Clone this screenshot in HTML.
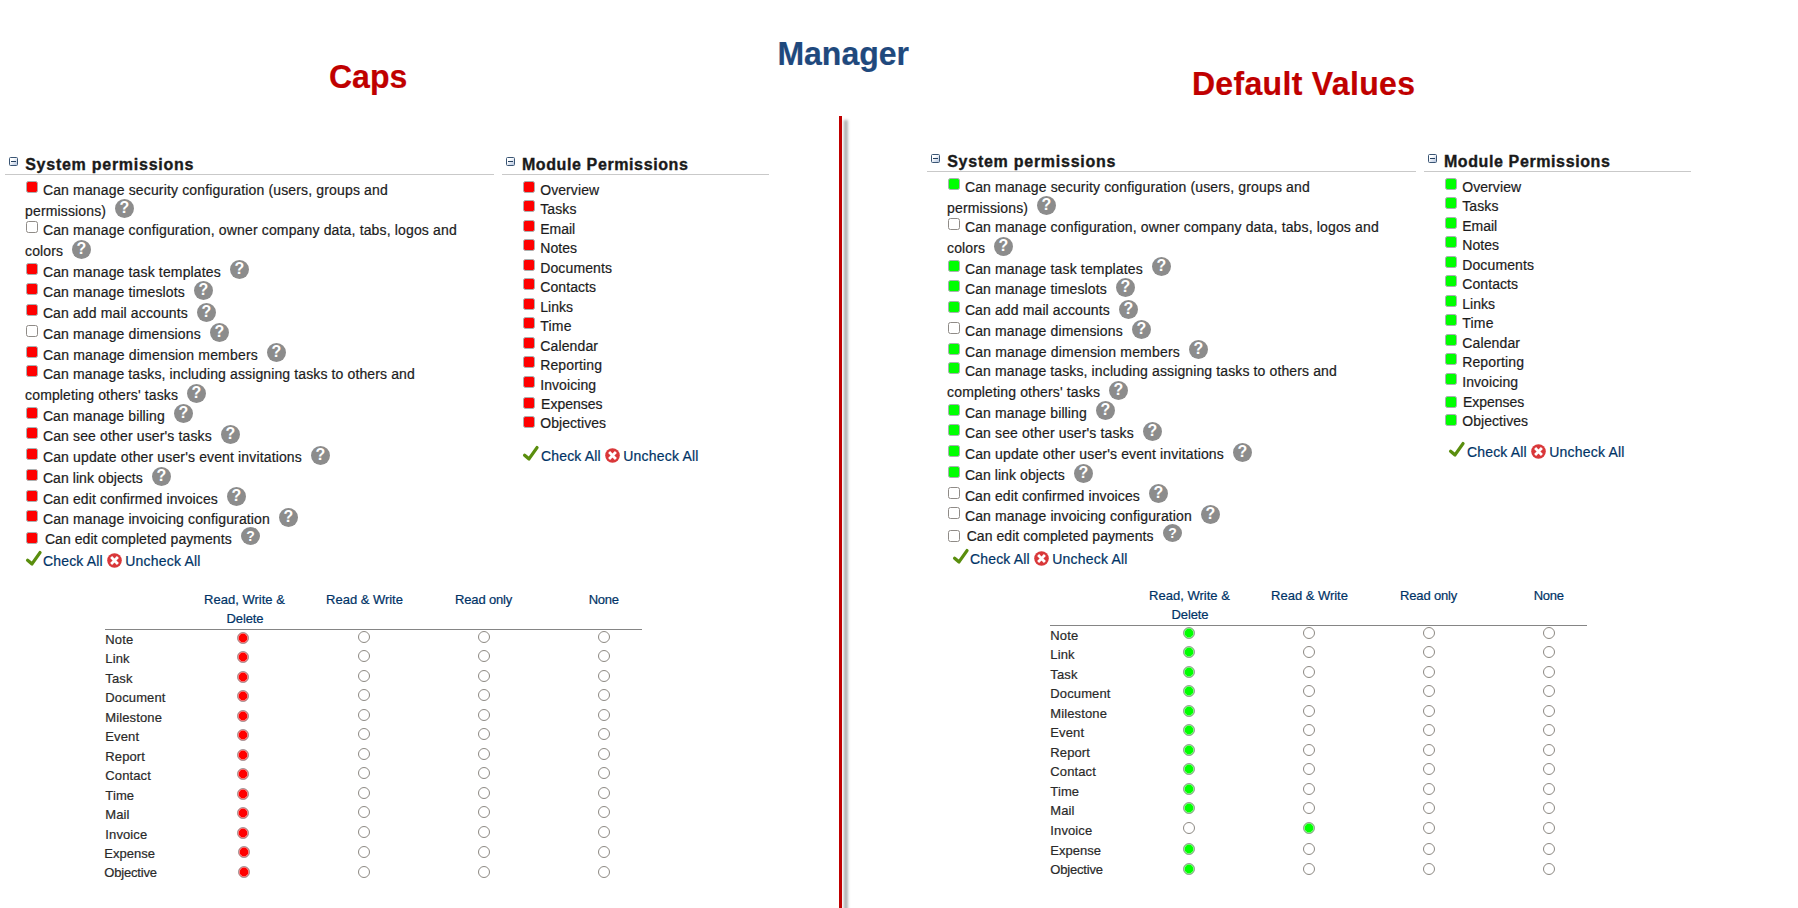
<!DOCTYPE html>
<html lang="en"><head><meta charset="utf-8"><title>Manager permissions</title>
<style>
html,body{margin:0;padding:0;background:#fff}
body{width:1798px;height:908px;position:relative;overflow:hidden;font-family:"Liberation Sans",Arial,sans-serif}
.t{position:absolute;margin:0;padding:0;text-decoration:none;white-space:nowrap;line-height:1;font-weight:400;-webkit-text-stroke:0.2px currentColor}
.t.b{font-weight:700}
.t.h{-webkit-text-stroke:0.35px #1a1a1a}
.tc{text-align:center}
.cb{position:absolute;box-sizing:border-box;width:12px;height:12px;border:1px solid #8f8b87;border-radius:2.5px;background:#fff}
.hp{position:absolute;border-radius:50%;background:#8c8c8c;color:#fff;font-size:16px;line-height:16px;padding-top:1px;box-sizing:border-box;font-weight:700;text-align:center;font-family:"Liberation Sans",Arial,sans-serif}
.co{position:absolute;box-sizing:border-box;width:9px;height:9px;border:1px solid #3a5574;border-radius:1.5px;background:linear-gradient(135deg,#fff 30%,#b4c4de 100%)}
.co s{position:absolute;left:1px;top:3px;width:5px;height:1px;background:#24405f}
.ln{position:absolute;height:1px}
.ic{position:absolute;overflow:visible}
.rd{position:absolute;box-sizing:border-box;width:12px;height:12px;border:1px solid #8d8983;border-radius:50%;background:#fff}
.rd.on{border:1px solid #a39ea0;box-shadow:inset 0 0 0 0.6px rgba(255,255,255,0.75)}
.vl{position:absolute;left:839px;top:116px;width:3px;height:800px;background:#c00000;box-shadow:5.3px 4.5px 3px 0.4px rgba(0,0,0,0.34)}
</style></head>
<body>
<h2 class="t b" style="left:329.0px;top:61px;font-size:32px;color:#c00000;transform:scaleY(1.035);transform-origin:0 27px">Caps</h2>
<h1 class="t b" style="left:777.4px;top:38px;font-size:32px;color:#1f497d;transform:scaleY(1.035);transform-origin:0 27px">Manager</h1>
<h2 class="t b" style="left:1191.9px;top:68px;font-size:32px;color:#c00000;letter-spacing:0.33px;transform:scaleY(1.035);transform-origin:0 27px">Default Values</h2>
<i class="vl"></i>
<section aria-label="Caps">
<i class="co" style="left:9px;top:157px"><s></s></i>
<h3 class="t b h" style="left:25.2px;top:157px;font-size:16px;color:#1a1a1a;letter-spacing:0.74px">System permissions</h3>
<i class="ln" style="left:5.0px;width:488.6px;top:174px;background:#c9c9c9"></i>
<i class="co" style="left:506px;top:157px"><s></s></i>
<h3 class="t b h" style="left:521.9px;top:157px;font-size:16px;color:#1a1a1a;letter-spacing:0.61px">Module Permissions</h3>
<i class="ln" style="left:502.4px;width:266.2px;top:174px;background:#c9c9c9"></i>
<i class="cb" style="left:26px;top:181px;background:#f00;border-color:#a9b0b0"></i>
<label class="t " style="left:42.9px;top:183px;font-size:14px;color:#1c1c1c;letter-spacing:0.155px">Can manage security configuration (users, groups and</label>
<label class="t " style="left:25.1px;top:204px;font-size:14px;color:#1c1c1c;letter-spacing:0.137px">permissions)</label>
<b class="hp" style="left:115px;top:199px;width:19px;height:19px">?</b>
<i class="cb" style="left:26px;top:221px"></i>
<label class="t " style="left:42.9px;top:223px;font-size:14px;color:#1c1c1c;letter-spacing:0.152px">Can manage configuration, owner company data, tabs, logos and</label>
<label class="t " style="left:25.1px;top:244px;font-size:14px;color:#1c1c1c;letter-spacing:0.109px">colors</label>
<b class="hp" style="left:72px;top:240px;width:19px;height:19px">?</b>
<i class="cb" style="left:26px;top:263px;background:#f00;border-color:#a9b0b0"></i>
<label class="t " style="left:42.9px;top:265px;font-size:14px;color:#1c1c1c;letter-spacing:0.147px">Can manage task templates</label>
<b class="hp" style="left:230px;top:260px;width:19px;height:19px">?</b>
<i class="cb" style="left:26px;top:283px;background:#f00;border-color:#a9b0b0"></i>
<label class="t " style="left:42.9px;top:285px;font-size:14px;color:#1c1c1c;letter-spacing:0.136px">Can manage timeslots</label>
<b class="hp" style="left:194px;top:281px;width:19px;height:19px">?</b>
<i class="cb" style="left:26px;top:304px;background:#f00;border-color:#a9b0b0"></i>
<label class="t " style="left:42.9px;top:306px;font-size:14px;color:#1c1c1c;letter-spacing:0.123px">Can add mail accounts</label>
<b class="hp" style="left:197px;top:303px;width:19px;height:19px">?</b>
<i class="cb" style="left:26px;top:325px"></i>
<label class="t " style="left:42.9px;top:327px;font-size:14px;color:#1c1c1c;letter-spacing:0.149px">Can manage dimensions</label>
<b class="hp" style="left:210px;top:323px;width:19px;height:19px">?</b>
<i class="cb" style="left:26px;top:346px;background:#f00;border-color:#a9b0b0"></i>
<label class="t " style="left:42.9px;top:348px;font-size:14px;color:#1c1c1c;letter-spacing:0.175px">Can manage dimension members</label>
<b class="hp" style="left:267px;top:343px;width:19px;height:19px">?</b>
<i class="cb" style="left:26px;top:365px;background:#f00;border-color:#a9b0b0"></i>
<label class="t " style="left:42.9px;top:367px;font-size:14px;color:#1c1c1c;letter-spacing:0.123px">Can manage tasks, including assigning tasks to others and</label>
<label class="t " style="left:25.1px;top:388px;font-size:14px;color:#1c1c1c;letter-spacing:0.136px">completing others' tasks</label>
<b class="hp" style="left:187px;top:384px;width:19px;height:19px">?</b>
<i class="cb" style="left:26px;top:407px;background:#f00;border-color:#a9b0b0"></i>
<label class="t " style="left:42.9px;top:409px;font-size:14px;color:#1c1c1c;letter-spacing:0.119px">Can manage billing</label>
<b class="hp" style="left:174px;top:404px;width:19px;height:19px">?</b>
<i class="cb" style="left:26px;top:427px;background:#f00;border-color:#a9b0b0"></i>
<label class="t " style="left:42.9px;top:429px;font-size:14px;color:#1c1c1c;letter-spacing:0.142px">Can see other user's tasks</label>
<b class="hp" style="left:221px;top:425px;width:19px;height:19px">?</b>
<i class="cb" style="left:26px;top:448px;background:#f00;border-color:#a9b0b0"></i>
<label class="t " style="left:42.9px;top:450px;font-size:14px;color:#1c1c1c;letter-spacing:0.140px">Can update other user's event invitations</label>
<b class="hp" style="left:311px;top:446px;width:19px;height:19px">?</b>
<i class="cb" style="left:26px;top:469px;background:#f00;border-color:#a9b0b0"></i>
<label class="t " style="left:42.9px;top:471px;font-size:14px;color:#1c1c1c;letter-spacing:0.073px">Can link objects</label>
<b class="hp" style="left:152px;top:467px;width:19px;height:19px">?</b>
<i class="cb" style="left:26px;top:490px;background:#f00;border-color:#a9b0b0"></i>
<label class="t " style="left:42.9px;top:492px;font-size:14px;color:#1c1c1c;letter-spacing:0.112px">Can edit confirmed invoices</label>
<b class="hp" style="left:227px;top:487px;width:19px;height:19px">?</b>
<i class="cb" style="left:26px;top:510px;background:#f00;border-color:#a9b0b0"></i>
<label class="t " style="left:42.9px;top:512px;font-size:14px;color:#1c1c1c;letter-spacing:0.130px">Can manage invoicing configuration</label>
<b class="hp" style="left:279px;top:508px;width:19px;height:19px">?</b>
<i class="cb" style="left:26px;top:532px;background:#f00;border-color:#a9b0b0"></i>
<label class="t " style="left:44.9px;top:532px;font-size:14px;color:#1c1c1c;letter-spacing:0.06px">Can edit completed payments</label>
<b class="hp" style="left:241px;top:527px;width:19px;height:18px;font-size:14px;line-height:14px;padding-top:2px">?</b>
<svg class="ic" style="left:25.5px;top:551.1px" width="16" height="16" viewBox="0 0 16 16"><path d="M1.6 9.3 L6.0 12.9 L14.0 1.6" fill="none" stroke="#5a8e0e" stroke-width="3.3" stroke-linejoin="round" stroke-linecap="round"/></svg>
<a href="#" class="t " style="left:43.0px;top:554px;font-size:14px;color:#003366;letter-spacing:0.17px">Check All</a>
<svg class="ic" style="left:107.0px;top:553.0px" width="15" height="15" viewBox="0 0 15 15"><circle cx="7.5" cy="7.5" r="7.3" fill="#d9383a"/><path d="M4.1 4.1 L10.9 10.9 M10.9 4.1 L4.1 10.9" stroke="#fff" stroke-width="2.8" stroke-linecap="butt"/></svg>
<a href="#" class="t " style="left:125.3px;top:554px;font-size:14px;color:#003366;letter-spacing:0.2px">Uncheck All</a>
<i class="cb" style="left:523px;top:181px;background:#f00;border-color:#a9b0b0"></i>
<label class="t " style="left:540.2px;top:183px;font-size:14px;color:#1c1c1c;letter-spacing:0.082px">Overview</label>
<i class="cb" style="left:523px;top:200px;background:#f00;border-color:#a9b0b0"></i>
<label class="t " style="left:540.2px;top:202px;font-size:14px;color:#1c1c1c;letter-spacing:0.132px">Tasks</label>
<i class="cb" style="left:523px;top:220px;background:#f00;border-color:#a9b0b0"></i>
<label class="t " style="left:540.2px;top:222px;font-size:14px;color:#1c1c1c;letter-spacing:-0.001px">Email</label>
<i class="cb" style="left:523px;top:239px;background:#f00;border-color:#a9b0b0"></i>
<label class="t " style="left:540.2px;top:241px;font-size:14px;color:#1c1c1c;letter-spacing:0.086px">Notes</label>
<i class="cb" style="left:523px;top:259px;background:#f00;border-color:#a9b0b0"></i>
<label class="t " style="left:540.2px;top:261px;font-size:14px;color:#1c1c1c;letter-spacing:0.133px">Documents</label>
<i class="cb" style="left:523px;top:278px;background:#f00;border-color:#a9b0b0"></i>
<label class="t " style="left:540.2px;top:280px;font-size:14px;color:#1c1c1c;letter-spacing:0.094px">Contacts</label>
<i class="cb" style="left:523px;top:298px;background:#f00;border-color:#a9b0b0"></i>
<label class="t " style="left:540.2px;top:300px;font-size:14px;color:#1c1c1c;letter-spacing:0.063px">Links</label>
<i class="cb" style="left:523px;top:317px;background:#f00;border-color:#a9b0b0"></i>
<label class="t " style="left:540.2px;top:319px;font-size:14px;color:#1c1c1c;letter-spacing:0.222px">Time</label>
<i class="cb" style="left:523px;top:337px;background:#f00;border-color:#a9b0b0"></i>
<label class="t " style="left:540.2px;top:339px;font-size:14px;color:#1c1c1c;letter-spacing:0.148px">Calendar</label>
<i class="cb" style="left:523px;top:356px;background:#f00;border-color:#a9b0b0"></i>
<label class="t " style="left:540.2px;top:358px;font-size:14px;color:#1c1c1c;letter-spacing:0.144px">Reporting</label>
<i class="cb" style="left:523px;top:376px;background:#f00;border-color:#a9b0b0"></i>
<label class="t " style="left:540.2px;top:378px;font-size:14px;color:#1c1c1c;letter-spacing:0.083px">Invoicing</label>
<i class="cb" style="left:523px;top:397px;background:#f00;border-color:#a9b0b0"></i>
<label class="t " style="left:541.1px;top:397px;font-size:14px;color:#1c1c1c;">Expenses</label>
<i class="cb" style="left:523px;top:416px;background:#f00;border-color:#a9b0b0"></i>
<label class="t " style="left:540.2px;top:416px;font-size:14px;color:#1c1c1c;letter-spacing:0.064px">Objectives</label>
<svg class="ic" style="left:523.1px;top:445.7px" width="16" height="16" viewBox="0 0 16 16"><path d="M1.6 9.3 L6.0 12.9 L14.0 1.6" fill="none" stroke="#5a8e0e" stroke-width="3.3" stroke-linejoin="round" stroke-linecap="round"/></svg>
<a href="#" class="t " style="left:541.0px;top:449px;font-size:14px;color:#003366;letter-spacing:0.17px">Check All</a>
<svg class="ic" style="left:605.0px;top:447.8px" width="15" height="15" viewBox="0 0 15 15"><circle cx="7.5" cy="7.5" r="7.3" fill="#d9383a"/><path d="M4.1 4.1 L10.9 10.9 M10.9 4.1 L4.1 10.9" stroke="#fff" stroke-width="2.8" stroke-linecap="butt"/></svg>
<a href="#" class="t " style="left:623.3px;top:449px;font-size:14px;color:#003366;letter-spacing:0.2px">Uncheck All</a>
<div class="t tc" style="left:144.5px;width:200px;top:593px;font-size:13px;color:#003366;letter-spacing:0.007px;">Read, Write &amp;</div>
<div class="t tc" style="left:145.0px;width:200px;top:612px;font-size:13px;color:#003366;letter-spacing:-0.096px;">Delete</div>
<div class="t tc" style="left:264.5px;width:200px;top:593px;font-size:13px;color:#003366;letter-spacing:-0.025px;">Read &amp; Write</div>
<div class="t tc" style="left:383.6px;width:200px;top:593px;font-size:13px;color:#003366;letter-spacing:-0.171px;">Read only</div>
<div class="t tc" style="left:503.7px;width:200px;top:593px;font-size:13px;color:#003366;letter-spacing:-0.270px;">None</div>
<i class="ln" style="left:105.0px;width:537.0px;top:629px;background:#858585"></i>
<div class="t " style="left:105.3px;top:633px;font-size:13px;color:#2a2a2a;letter-spacing:0.12px">Note</div>
<i class="rd on" style="left:236.8px;top:632.0px;background:#f00"></i>
<i class="rd" style="left:357.7px;top:631.0px"></i>
<i class="rd" style="left:477.7px;top:631.0px"></i>
<i class="rd" style="left:597.7px;top:631.0px"></i>
<div class="t " style="left:105.3px;top:652px;font-size:13px;color:#2a2a2a;letter-spacing:0.12px">Link</div>
<i class="rd on" style="left:236.8px;top:651.0px;background:#f00"></i>
<i class="rd" style="left:357.7px;top:650.0px"></i>
<i class="rd" style="left:477.7px;top:650.0px"></i>
<i class="rd" style="left:597.7px;top:650.0px"></i>
<div class="t " style="left:105.3px;top:672px;font-size:13px;color:#2a2a2a;letter-spacing:0.12px">Task</div>
<i class="rd on" style="left:236.8px;top:671.0px;background:#f00"></i>
<i class="rd" style="left:357.7px;top:670.0px"></i>
<i class="rd" style="left:477.7px;top:670.0px"></i>
<i class="rd" style="left:597.7px;top:670.0px"></i>
<div class="t " style="left:105.3px;top:691px;font-size:13px;color:#2a2a2a;letter-spacing:0.12px">Document</div>
<i class="rd on" style="left:236.8px;top:690.0px;background:#f00"></i>
<i class="rd" style="left:357.7px;top:689.0px"></i>
<i class="rd" style="left:477.7px;top:689.0px"></i>
<i class="rd" style="left:597.7px;top:689.0px"></i>
<div class="t " style="left:105.3px;top:711px;font-size:13px;color:#2a2a2a;letter-spacing:0.12px">Milestone</div>
<i class="rd on" style="left:236.8px;top:710.0px;background:#f00"></i>
<i class="rd" style="left:357.7px;top:709.0px"></i>
<i class="rd" style="left:477.7px;top:709.0px"></i>
<i class="rd" style="left:597.7px;top:709.0px"></i>
<div class="t " style="left:105.3px;top:730px;font-size:13px;color:#2a2a2a;letter-spacing:0.12px">Event</div>
<i class="rd on" style="left:236.8px;top:729.0px;background:#f00"></i>
<i class="rd" style="left:357.7px;top:728.0px"></i>
<i class="rd" style="left:477.7px;top:728.0px"></i>
<i class="rd" style="left:597.7px;top:728.0px"></i>
<div class="t " style="left:105.3px;top:750px;font-size:13px;color:#2a2a2a;letter-spacing:0.12px">Report</div>
<i class="rd on" style="left:236.8px;top:749.0px;background:#f00"></i>
<i class="rd" style="left:357.7px;top:748.0px"></i>
<i class="rd" style="left:477.7px;top:748.0px"></i>
<i class="rd" style="left:597.7px;top:748.0px"></i>
<div class="t " style="left:105.3px;top:769px;font-size:13px;color:#2a2a2a;letter-spacing:0.12px">Contact</div>
<i class="rd on" style="left:236.8px;top:768.0px;background:#f00"></i>
<i class="rd" style="left:357.7px;top:767.0px"></i>
<i class="rd" style="left:477.7px;top:767.0px"></i>
<i class="rd" style="left:597.7px;top:767.0px"></i>
<div class="t " style="left:105.3px;top:789px;font-size:13px;color:#2a2a2a;letter-spacing:0.12px">Time</div>
<i class="rd on" style="left:236.8px;top:788.0px;background:#f00"></i>
<i class="rd" style="left:357.7px;top:787.0px"></i>
<i class="rd" style="left:477.7px;top:787.0px"></i>
<i class="rd" style="left:597.7px;top:787.0px"></i>
<div class="t " style="left:105.3px;top:808px;font-size:13px;color:#2a2a2a;letter-spacing:0.12px">Mail</div>
<i class="rd on" style="left:236.8px;top:807.0px;background:#f00"></i>
<i class="rd" style="left:357.7px;top:806.0px"></i>
<i class="rd" style="left:477.7px;top:806.0px"></i>
<i class="rd" style="left:597.7px;top:806.0px"></i>
<div class="t " style="left:105.3px;top:828px;font-size:13px;color:#2a2a2a;letter-spacing:0.12px">Invoice</div>
<i class="rd on" style="left:236.8px;top:827.0px;background:#f00"></i>
<i class="rd" style="left:357.7px;top:826.0px"></i>
<i class="rd" style="left:477.7px;top:826.0px"></i>
<i class="rd" style="left:597.7px;top:826.0px"></i>
<div class="t " style="left:104.3px;top:847px;font-size:13px;color:#2a2a2a;">Expense</div>
<i class="rd on" style="left:237.8px;top:846.0px;background:#f00"></i>
<i class="rd" style="left:357.7px;top:846.0px"></i>
<i class="rd" style="left:477.7px;top:846.0px"></i>
<i class="rd" style="left:597.7px;top:846.0px"></i>
<div class="t " style="left:104.3px;top:866px;font-size:13px;color:#2a2a2a;letter-spacing:-0.18px">Objective</div>
<i class="rd on" style="left:237.8px;top:866.0px;background:#f00"></i>
<i class="rd" style="left:357.7px;top:866.0px"></i>
<i class="rd" style="left:477.7px;top:866.0px"></i>
<i class="rd" style="left:597.7px;top:866.0px"></i>
</section>
<section aria-label="Default Values">
<i class="co" style="left:931px;top:154px"><s></s></i>
<h3 class="t b h" style="left:947.2px;top:154px;font-size:16px;color:#1a1a1a;letter-spacing:0.74px">System permissions</h3>
<i class="ln" style="left:927.0px;width:488.6px;top:171px;background:#c9c9c9"></i>
<i class="co" style="left:1428px;top:154px"><s></s></i>
<h3 class="t b h" style="left:1443.9px;top:154px;font-size:16px;color:#1a1a1a;letter-spacing:0.61px">Module Permissions</h3>
<i class="ln" style="left:1424.4px;width:266.2px;top:171px;background:#c9c9c9"></i>
<i class="cb" style="left:948px;top:178px;background:#0f0;border-color:#a9b0b0"></i>
<label class="t " style="left:964.9px;top:180px;font-size:14px;color:#1c1c1c;letter-spacing:0.155px">Can manage security configuration (users, groups and</label>
<label class="t " style="left:947.1px;top:201px;font-size:14px;color:#1c1c1c;letter-spacing:0.137px">permissions)</label>
<b class="hp" style="left:1037px;top:196px;width:19px;height:19px">?</b>
<i class="cb" style="left:948px;top:218px"></i>
<label class="t " style="left:964.9px;top:220px;font-size:14px;color:#1c1c1c;letter-spacing:0.152px">Can manage configuration, owner company data, tabs, logos and</label>
<label class="t " style="left:947.1px;top:241px;font-size:14px;color:#1c1c1c;letter-spacing:0.109px">colors</label>
<b class="hp" style="left:994px;top:237px;width:19px;height:19px">?</b>
<i class="cb" style="left:948px;top:260px;background:#0f0;border-color:#a9b0b0"></i>
<label class="t " style="left:964.9px;top:262px;font-size:14px;color:#1c1c1c;letter-spacing:0.147px">Can manage task templates</label>
<b class="hp" style="left:1152px;top:257px;width:19px;height:19px">?</b>
<i class="cb" style="left:948px;top:280px;background:#0f0;border-color:#a9b0b0"></i>
<label class="t " style="left:964.9px;top:282px;font-size:14px;color:#1c1c1c;letter-spacing:0.136px">Can manage timeslots</label>
<b class="hp" style="left:1116px;top:278px;width:19px;height:19px">?</b>
<i class="cb" style="left:948px;top:301px;background:#0f0;border-color:#a9b0b0"></i>
<label class="t " style="left:964.9px;top:303px;font-size:14px;color:#1c1c1c;letter-spacing:0.123px">Can add mail accounts</label>
<b class="hp" style="left:1119px;top:300px;width:19px;height:19px">?</b>
<i class="cb" style="left:948px;top:322px"></i>
<label class="t " style="left:964.9px;top:324px;font-size:14px;color:#1c1c1c;letter-spacing:0.149px">Can manage dimensions</label>
<b class="hp" style="left:1132px;top:320px;width:19px;height:19px">?</b>
<i class="cb" style="left:948px;top:343px;background:#0f0;border-color:#a9b0b0"></i>
<label class="t " style="left:964.9px;top:345px;font-size:14px;color:#1c1c1c;letter-spacing:0.175px">Can manage dimension members</label>
<b class="hp" style="left:1189px;top:340px;width:19px;height:19px">?</b>
<i class="cb" style="left:948px;top:362px;background:#0f0;border-color:#a9b0b0"></i>
<label class="t " style="left:964.9px;top:364px;font-size:14px;color:#1c1c1c;letter-spacing:0.123px">Can manage tasks, including assigning tasks to others and</label>
<label class="t " style="left:947.1px;top:385px;font-size:14px;color:#1c1c1c;letter-spacing:0.136px">completing others' tasks</label>
<b class="hp" style="left:1109px;top:381px;width:19px;height:19px">?</b>
<i class="cb" style="left:948px;top:404px;background:#0f0;border-color:#a9b0b0"></i>
<label class="t " style="left:964.9px;top:406px;font-size:14px;color:#1c1c1c;letter-spacing:0.119px">Can manage billing</label>
<b class="hp" style="left:1096px;top:401px;width:19px;height:19px">?</b>
<i class="cb" style="left:948px;top:424px;background:#0f0;border-color:#a9b0b0"></i>
<label class="t " style="left:964.9px;top:426px;font-size:14px;color:#1c1c1c;letter-spacing:0.142px">Can see other user's tasks</label>
<b class="hp" style="left:1143px;top:422px;width:19px;height:19px">?</b>
<i class="cb" style="left:948px;top:445px;background:#0f0;border-color:#a9b0b0"></i>
<label class="t " style="left:964.9px;top:447px;font-size:14px;color:#1c1c1c;letter-spacing:0.140px">Can update other user's event invitations</label>
<b class="hp" style="left:1233px;top:443px;width:19px;height:19px">?</b>
<i class="cb" style="left:948px;top:466px;background:#0f0;border-color:#a9b0b0"></i>
<label class="t " style="left:964.9px;top:468px;font-size:14px;color:#1c1c1c;letter-spacing:0.073px">Can link objects</label>
<b class="hp" style="left:1074px;top:464px;width:19px;height:19px">?</b>
<i class="cb" style="left:948px;top:487px"></i>
<label class="t " style="left:964.9px;top:489px;font-size:14px;color:#1c1c1c;letter-spacing:0.112px">Can edit confirmed invoices</label>
<b class="hp" style="left:1149px;top:484px;width:19px;height:19px">?</b>
<i class="cb" style="left:948px;top:507px"></i>
<label class="t " style="left:964.9px;top:509px;font-size:14px;color:#1c1c1c;letter-spacing:0.130px">Can manage invoicing configuration</label>
<b class="hp" style="left:1201px;top:505px;width:19px;height:19px">?</b>
<i class="cb" style="left:948px;top:530px"></i>
<label class="t " style="left:966.7px;top:529px;font-size:14px;color:#1c1c1c;letter-spacing:0.06px">Can edit completed payments</label>
<b class="hp" style="left:1163px;top:524px;width:19px;height:18px;font-size:14px;line-height:14px;padding-top:2px">?</b>
<svg class="ic" style="left:952.5px;top:548.8px" width="16" height="16" viewBox="0 0 16 16"><path d="M1.6 9.3 L6.0 12.9 L14.0 1.6" fill="none" stroke="#5a8e0e" stroke-width="3.3" stroke-linejoin="round" stroke-linecap="round"/></svg>
<a href="#" class="t " style="left:970.0px;top:552px;font-size:14px;color:#003366;letter-spacing:0.17px">Check All</a>
<svg class="ic" style="left:1034.0px;top:550.8px" width="15" height="15" viewBox="0 0 15 15"><circle cx="7.5" cy="7.5" r="7.3" fill="#d9383a"/><path d="M4.1 4.1 L10.9 10.9 M10.9 4.1 L4.1 10.9" stroke="#fff" stroke-width="2.8" stroke-linecap="butt"/></svg>
<a href="#" class="t " style="left:1052.3px;top:552px;font-size:14px;color:#003366;letter-spacing:0.2px">Uncheck All</a>
<i class="cb" style="left:1445px;top:178px;background:#0f0;border-color:#a9b0b0"></i>
<label class="t " style="left:1462.2px;top:180px;font-size:14px;color:#1c1c1c;letter-spacing:0.082px">Overview</label>
<i class="cb" style="left:1445px;top:197px;background:#0f0;border-color:#a9b0b0"></i>
<label class="t " style="left:1462.2px;top:199px;font-size:14px;color:#1c1c1c;letter-spacing:0.132px">Tasks</label>
<i class="cb" style="left:1445px;top:217px;background:#0f0;border-color:#a9b0b0"></i>
<label class="t " style="left:1462.2px;top:219px;font-size:14px;color:#1c1c1c;letter-spacing:-0.001px">Email</label>
<i class="cb" style="left:1445px;top:236px;background:#0f0;border-color:#a9b0b0"></i>
<label class="t " style="left:1462.2px;top:238px;font-size:14px;color:#1c1c1c;letter-spacing:0.086px">Notes</label>
<i class="cb" style="left:1445px;top:256px;background:#0f0;border-color:#a9b0b0"></i>
<label class="t " style="left:1462.2px;top:258px;font-size:14px;color:#1c1c1c;letter-spacing:0.133px">Documents</label>
<i class="cb" style="left:1445px;top:275px;background:#0f0;border-color:#a9b0b0"></i>
<label class="t " style="left:1462.2px;top:277px;font-size:14px;color:#1c1c1c;letter-spacing:0.094px">Contacts</label>
<i class="cb" style="left:1445px;top:295px;background:#0f0;border-color:#a9b0b0"></i>
<label class="t " style="left:1462.2px;top:297px;font-size:14px;color:#1c1c1c;letter-spacing:0.063px">Links</label>
<i class="cb" style="left:1445px;top:314px;background:#0f0;border-color:#a9b0b0"></i>
<label class="t " style="left:1462.2px;top:316px;font-size:14px;color:#1c1c1c;letter-spacing:0.222px">Time</label>
<i class="cb" style="left:1445px;top:334px;background:#0f0;border-color:#a9b0b0"></i>
<label class="t " style="left:1462.2px;top:336px;font-size:14px;color:#1c1c1c;letter-spacing:0.148px">Calendar</label>
<i class="cb" style="left:1445px;top:353px;background:#0f0;border-color:#a9b0b0"></i>
<label class="t " style="left:1462.2px;top:355px;font-size:14px;color:#1c1c1c;letter-spacing:0.144px">Reporting</label>
<i class="cb" style="left:1445px;top:373px;background:#0f0;border-color:#a9b0b0"></i>
<label class="t " style="left:1462.2px;top:375px;font-size:14px;color:#1c1c1c;letter-spacing:0.083px">Invoicing</label>
<i class="cb" style="left:1445px;top:396px;background:#0f0;border-color:#a9b0b0"></i>
<label class="t " style="left:1462.9px;top:395px;font-size:14px;color:#1c1c1c;">Expenses</label>
<i class="cb" style="left:1445px;top:414px;background:#0f0;border-color:#a9b0b0"></i>
<label class="t " style="left:1462.2px;top:414px;font-size:14px;color:#1c1c1c;letter-spacing:0.064px">Objectives</label>
<svg class="ic" style="left:1449.1px;top:441.7px" width="16" height="16" viewBox="0 0 16 16"><path d="M1.6 9.3 L6.0 12.9 L14.0 1.6" fill="none" stroke="#5a8e0e" stroke-width="3.3" stroke-linejoin="round" stroke-linecap="round"/></svg>
<a href="#" class="t " style="left:1467.0px;top:445px;font-size:14px;color:#003366;letter-spacing:0.17px">Check All</a>
<svg class="ic" style="left:1531.0px;top:443.8px" width="15" height="15" viewBox="0 0 15 15"><circle cx="7.5" cy="7.5" r="7.3" fill="#d9383a"/><path d="M4.1 4.1 L10.9 10.9 M10.9 4.1 L4.1 10.9" stroke="#fff" stroke-width="2.8" stroke-linecap="butt"/></svg>
<a href="#" class="t " style="left:1549.3px;top:445px;font-size:14px;color:#003366;letter-spacing:0.2px">Uncheck All</a>
<div class="t tc" style="left:1089.5px;width:200px;top:589px;font-size:13px;color:#003366;letter-spacing:0.007px;">Read, Write &amp;</div>
<div class="t tc" style="left:1090.0px;width:200px;top:608px;font-size:13px;color:#003366;letter-spacing:-0.096px;">Delete</div>
<div class="t tc" style="left:1209.5px;width:200px;top:589px;font-size:13px;color:#003366;letter-spacing:-0.025px;">Read &amp; Write</div>
<div class="t tc" style="left:1328.6px;width:200px;top:589px;font-size:13px;color:#003366;letter-spacing:-0.171px;">Read only</div>
<div class="t tc" style="left:1448.7px;width:200px;top:589px;font-size:13px;color:#003366;letter-spacing:-0.270px;">None</div>
<i class="ln" style="left:1050.0px;width:537.0px;top:625px;background:#858585"></i>
<div class="t " style="left:1050.3px;top:629px;font-size:13px;color:#2a2a2a;letter-spacing:0.12px">Note</div>
<i class="rd on" style="left:1182.8px;top:627.0px;background:#0f0"></i>
<i class="rd" style="left:1302.7px;top:627.0px"></i>
<i class="rd" style="left:1422.7px;top:627.0px"></i>
<i class="rd" style="left:1542.7px;top:627.0px"></i>
<div class="t " style="left:1050.3px;top:648px;font-size:13px;color:#2a2a2a;letter-spacing:0.12px">Link</div>
<i class="rd on" style="left:1182.8px;top:646.0px;background:#0f0"></i>
<i class="rd" style="left:1302.7px;top:646.0px"></i>
<i class="rd" style="left:1422.7px;top:646.0px"></i>
<i class="rd" style="left:1542.7px;top:646.0px"></i>
<div class="t " style="left:1050.3px;top:668px;font-size:13px;color:#2a2a2a;letter-spacing:0.12px">Task</div>
<i class="rd on" style="left:1182.8px;top:666.0px;background:#0f0"></i>
<i class="rd" style="left:1302.7px;top:666.0px"></i>
<i class="rd" style="left:1422.7px;top:666.0px"></i>
<i class="rd" style="left:1542.7px;top:666.0px"></i>
<div class="t " style="left:1050.3px;top:687px;font-size:13px;color:#2a2a2a;letter-spacing:0.12px">Document</div>
<i class="rd on" style="left:1182.8px;top:685.0px;background:#0f0"></i>
<i class="rd" style="left:1302.7px;top:685.0px"></i>
<i class="rd" style="left:1422.7px;top:685.0px"></i>
<i class="rd" style="left:1542.7px;top:685.0px"></i>
<div class="t " style="left:1050.3px;top:707px;font-size:13px;color:#2a2a2a;letter-spacing:0.12px">Milestone</div>
<i class="rd on" style="left:1182.8px;top:705.0px;background:#0f0"></i>
<i class="rd" style="left:1302.7px;top:705.0px"></i>
<i class="rd" style="left:1422.7px;top:705.0px"></i>
<i class="rd" style="left:1542.7px;top:705.0px"></i>
<div class="t " style="left:1050.3px;top:726px;font-size:13px;color:#2a2a2a;letter-spacing:0.12px">Event</div>
<i class="rd on" style="left:1182.8px;top:724.0px;background:#0f0"></i>
<i class="rd" style="left:1302.7px;top:724.0px"></i>
<i class="rd" style="left:1422.7px;top:724.0px"></i>
<i class="rd" style="left:1542.7px;top:724.0px"></i>
<div class="t " style="left:1050.3px;top:746px;font-size:13px;color:#2a2a2a;letter-spacing:0.12px">Report</div>
<i class="rd on" style="left:1182.8px;top:744.0px;background:#0f0"></i>
<i class="rd" style="left:1302.7px;top:744.0px"></i>
<i class="rd" style="left:1422.7px;top:744.0px"></i>
<i class="rd" style="left:1542.7px;top:744.0px"></i>
<div class="t " style="left:1050.3px;top:765px;font-size:13px;color:#2a2a2a;letter-spacing:0.12px">Contact</div>
<i class="rd on" style="left:1182.8px;top:763.0px;background:#0f0"></i>
<i class="rd" style="left:1302.7px;top:763.0px"></i>
<i class="rd" style="left:1422.7px;top:763.0px"></i>
<i class="rd" style="left:1542.7px;top:763.0px"></i>
<div class="t " style="left:1050.3px;top:785px;font-size:13px;color:#2a2a2a;letter-spacing:0.12px">Time</div>
<i class="rd on" style="left:1182.8px;top:783.0px;background:#0f0"></i>
<i class="rd" style="left:1302.7px;top:783.0px"></i>
<i class="rd" style="left:1422.7px;top:783.0px"></i>
<i class="rd" style="left:1542.7px;top:783.0px"></i>
<div class="t " style="left:1050.3px;top:804px;font-size:13px;color:#2a2a2a;letter-spacing:0.12px">Mail</div>
<i class="rd on" style="left:1182.8px;top:802.0px;background:#0f0"></i>
<i class="rd" style="left:1302.7px;top:802.0px"></i>
<i class="rd" style="left:1422.7px;top:802.0px"></i>
<i class="rd" style="left:1542.7px;top:802.0px"></i>
<div class="t " style="left:1050.3px;top:824px;font-size:13px;color:#2a2a2a;letter-spacing:0.12px">Invoice</div>
<i class="rd" style="left:1182.7px;top:822.0px"></i>
<i class="rd on" style="left:1302.8px;top:822.0px;background:#0f0"></i>
<i class="rd" style="left:1422.7px;top:822.0px"></i>
<i class="rd" style="left:1542.7px;top:822.0px"></i>
<div class="t " style="left:1050.3px;top:844px;font-size:13px;color:#2a2a2a;">Expense</div>
<i class="rd on" style="left:1182.8px;top:843.0px;background:#0f0"></i>
<i class="rd" style="left:1302.7px;top:843.0px"></i>
<i class="rd" style="left:1422.7px;top:843.0px"></i>
<i class="rd" style="left:1542.7px;top:843.0px"></i>
<div class="t " style="left:1050.3px;top:863px;font-size:13px;color:#2a2a2a;letter-spacing:-0.18px">Objective</div>
<i class="rd on" style="left:1182.8px;top:863.0px;background:#0f0"></i>
<i class="rd" style="left:1302.7px;top:863.0px"></i>
<i class="rd" style="left:1422.7px;top:863.0px"></i>
<i class="rd" style="left:1542.7px;top:863.0px"></i>
</section>
</body></html>
